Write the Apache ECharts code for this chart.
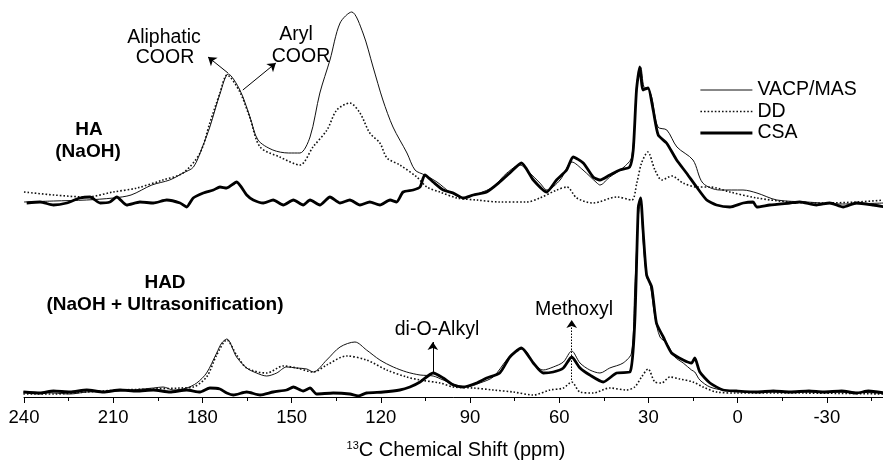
<!DOCTYPE html>
<html>
<head>
<meta charset="utf-8">
<script src="https://cdn.jsdelivr.net/npm/echarts@6/dist/echarts.min.js"></script>
<style>
  html, body { margin: 0; padding: 0; background: #fff; }
  #chart { width: 883px; height: 460px; }
</style>
</head>
<body>
<div id="chart"></div>
<script>
// offsets of the two stacked spectra (intensity units)
var offsetHA = 192;
var offsetHAD = 4;

// [ppm, intensity above own baseline]
var haVacp = [[240,3],[230,4],[219,5],[210,7],[204,10],[197,20],[191,25],[186.5,32],[183,38],[180,58],[177.5,78],[174,112],[171.3,131],[167.4,115],[164,88],[161.3,65],[156.3,55],[151,52],[147.2,52],[143.8,68],[140.5,112],[137.1,145],[133.7,182],[129.8,193],[126,172],[122.6,138],[119.3,105],[115.9,78],[111.2,52],[108.5,35],[105.2,30],[101.1,23],[96.8,13],[92.4,7],[86.7,12],[82.3,18],[77.6,32],[73.2,40],[69.9,32],[66.5,22],[64.1,15],[59.7,25],[55.7,43],[52,35],[47.3,22],[46.3,20],[43,28],[38.6,37],[35.6,48],[33.9,122],[32.6,138],[31.5,118],[30.2,117],[28.9,108],[26.8,78],[23.8,75],[20.4,58],[15,45],[11.7,22],[6,15],[-1.8,15],[-6.5,12],[-13.2,5],[-23.3,3],[-34.4,1],[-49.5,2]];
var haDd = [[240,13],[230,10],[219,8],[210,13],[202,17],[193.3,25],[186.5,32],[180.8,52],[177.5,82],[174.1,112],[171.7,130],[167.4,113],[164,87],[160.6,58],[154,48],[147.2,40],[142.8,58],[138.1,75],[134.8,95],[130.4,102],[127,92],[123.7,72],[120.3,62],[117.9,47],[113.6,40],[107.9,28],[104.5,18],[100.1,13],[94.4,7],[87.7,5],[80,3],[70.9,3],[66.5,7],[60.8,15],[57.4,18],[54.1,7],[48.7,2],[40.6,8],[35.6,5],[33.9,22],[32.3,42],[30.2,53],[27.8,35],[25.5,25],[22.1,29],[18.4,22],[13.7,18],[9.3,18],[2.6,13],[-6.5,7],[-17.6,3],[-28.7,2],[-40.1,3],[-49.5,5]];
var haCsa = [[239.1,2],[234.6,3],[230.1,0],[225.6,2],[221.2,7],[217.8,8],[214.4,2],[211.1,3],[208.8,8],[205.5,0],[201,3],[196.5,2],[192,5],[187.5,2],[185.3,-2],[183.1,7],[179.7,12],[176.3,15],[174.1,18],[171.8,17],[168.5,23],[165.1,10],[162.9,5],[159.5,2],[156.2,5],[152.8,0],[149.4,5],[146.1,0],[143.8,5],[140.5,0],[137.1,8],[133.7,2],[130.4,5],[127,0],[123.7,3],[120.3,0],[116.9,5],[114.7,3],[112.5,13],[109.1,15],[106.8,18],[105.2,30],[102.4,23],[99,15],[95.6,12],[92.3,7],[88.9,10],[84.4,13],[80,23],[76.6,32],[72.7,42],[68.7,25],[64.2,13],[60.9,25],[57.5,35],[55.3,48],[51.9,42],[48.6,28],[46.3,25],[43,30],[39.6,35],[36.3,38],[35.1,55],[34,115],[32.9,138],[31.8,115],[30.1,117],[28.4,95],[26.7,70],[23.9,62],[20.5,45],[17.2,32],[13.8,18],[10.4,5],[7.1,0],[2.6,-2],[-1.9,2],[-5.2,3],[-6.4,-2],[-10.8,0],[-17.6,2],[-20.9,3],[-26.5,0],[-31,2],[-35.5,-2],[-40,2],[-45.6,0],[-49.5,-2]];

var hadVacp = [[240.2,1],[230.1,0],[224.5,-1],[218.9,1],[207.7,2],[196.5,5],[193.2,6],[189.8,3],[185.3,5],[181.9,10],[178.6,20],[175.2,40],[173.5,50],[171.8,54],[168.5,36],[165.1,25],[161.8,20],[158.4,17],[155,20],[151.7,26],[148.3,25],[144.9,24],[142.7,21],[138.2,33],[133.7,46],[128.7,51],[124.8,43],[120.3,33],[115.8,26],[111.3,21],[106.8,18],[102.4,17],[99,13],[95.6,9],[91.1,6],[86.7,10],[82.2,16],[77.7,33],[74.3,43],[72.1,44],[68.7,30],[65.4,23],[62,26],[58.6,31],[55.8,42],[53,30],[49.7,23],[46.3,20],[43,25],[38.5,30],[35.7,40],[34.6,103],[33.4,176],[32.6,193],[31.8,153],[30.6,116],[29.5,110],[27.8,76],[26.1,56],[23.9,50],[21.1,36],[18.3,30],[15.5,23],[14.4,21],[12.7,13],[9.3,6],[4.9,3],[-6.4,1],[-28.8,1],[-49.5,0]];
var hadDd = [[240.2,-1],[230.1,-1],[218.9,1],[207.7,3],[196.5,4],[187.5,5],[183.1,6],[178.6,16],[175.2,38],[171.8,53],[168.5,38],[165.1,25],[158.4,20],[152.8,27],[148.3,25],[142.7,21],[138.2,28],[131.5,37],[124.8,33],[118,23],[111.3,16],[106.8,13],[100.1,10],[95.6,6],[88.9,5],[82.2,3],[75.5,1],[68.7,-2],[63.1,3],[58.6,5],[55.8,11],[53,1],[48.6,0],[43,5],[37.4,3],[34.6,6],[32.3,16],[30.1,24],[27.8,11],[25.6,10],[22.8,16],[19.4,14],[15,11],[11.6,6],[7.1,1],[0.4,0],[-17.6,0],[-49.5,-1]];
var hadCsa = [[240.2,1],[234.6,0],[230.1,2],[224.5,1],[218.9,3],[213.3,1],[207.7,3],[202.1,2],[196.5,3],[190.9,1],[185.3,3],[180.8,1],[177.5,5],[174.1,4],[171.8,0],[169.6,-2],[165.1,1],[160.6,-2],[156.2,1],[151.7,3],[149.4,6],[146.1,2],[143.8,5],[141.6,-1],[136,0],[130.4,-1],[127.6,-3],[124.8,0],[119.2,1],[113.6,3],[110.2,6],[106.8,11],[102.4,20],[99,15],[95.6,8],[92.3,6],[87.8,10],[84.4,15],[80,20],[76.6,36],[72.7,45],[68.7,30],[65.4,20],[62,21],[58.6,25],[55.8,36],[53,25],[49.7,18],[45.2,11],[40.7,20],[36.2,21],[34.6,70],[33.4,186],[32.6,195],[31.8,163],[30.6,118],[28.9,106],[27.3,70],[25,56],[22.2,40],[18.3,33],[15.5,30],[14.4,35],[12.7,21],[9.3,10],[4.9,3],[0.4,2],[-6.4,1],[-12,2],[-17.6,1],[-24,2],[-28.8,1],[-35,2],[-40,0],[-44,2],[-49.5,0]];

var legendNames = ['VACP/MAS', 'DD', 'CSA'];

// annotation arrows, [ppm, intensity] from -> to (relative to own baseline)
var arrowAliphatic = [[171.4, 132], [178.1, 148]];
var arrowAryl = [[166.4, 115], [155.3, 142]];
var arrowDiOAlkyl = [[102.5, 21], [102.5, 51]];
var arrowMethoxyl = [[55.8, 13], [55.8, 73]];

var font = 'Arial, "Liberation Sans", Helvetica, sans-serif';

function shift(arr, off) {
  return arr.map(function (d) { return [d[0], d[1] + off]; });
}
function arrow(a, off, dotted) {
  return [
    { coord: [a[0][0], a[0][1] + off], lineStyle: { type: dotted ? [1.5, 1.5] : 'solid' } },
    { coord: [a[1][0], a[1][1] + off] }
  ];
}

var styles = {
  'VACP/MAS': { color: '#111', width: 1, type: 'solid' },
  'DD': { color: '#111', width: 1.6, type: [1.6, 2] },
  'CSA': { color: '#000', width: 2.8, type: 'solid' }
};

function line(name, data, off, smooth) {
  return {
    name: name,
    type: 'line',
    data: shift(data, off),
    symbol: 'none',
    smooth: smooth,
    lineStyle: styles[name],
    itemStyle: { color: styles[name].color },
    silent: true
  };
}

var series = [
  line('VACP/MAS', haVacp, offsetHA, 0.3),
  line('DD', haDd, offsetHA, 0.3),
  line('CSA', haCsa, offsetHA, 0.2),
  line('VACP/MAS', hadVacp, offsetHAD, 0.3),
  line('DD', hadDd, offsetHAD, 0.3),
  line('CSA', hadCsa, offsetHAD, 0.2)
];
series[0].markLine = {
  silent: true,
  symbol: ['none', 'arrow'],
  symbolSize: 8,
  label: { show: false },
  lineStyle: { color: '#000', width: 1, type: 'solid' },
  data: [
    arrow(arrowAliphatic, offsetHA),
    arrow(arrowAryl, offsetHA),
    arrow(arrowDiOAlkyl, offsetHAD),
    arrow(arrowMethoxyl, offsetHAD, true)
  ]
};

function txt(x, y, s, size, bold) {
  return {
    type: 'text', x: x, y: y, silent: true,
    style: {
      text: s, fill: '#000', font: (bold ? 'bold ' : '') + size + 'px ' + font,
      align: 'center', verticalAlign: 'middle'
    }
  };
}

var chart = echarts.init(document.getElementById('chart'));
chart.setOption({
  animation: false,
  backgroundColor: '#fff',
  // axis runs on past the right edge of the canvas (to -60) and is cut there
  grid: { left: 24, top: 0, width: 892, height: 397, containLabel: false, outerBoundsMode: 'none' },
  legend: {
    data: legendNames.map(function (n) {
      return { name: n, lineStyle: { width: styles[n].width, type: styles[n].type } };
    }),
    orient: 'vertical',
    left: 694,
    top: 75,
    padding: 5,
    itemWidth: 52,
    itemHeight: 14,
    itemGap: 1.5,
    selectedMode: false,
    itemStyle: { opacity: 0 },
    textStyle: { fontFamily: font, fontSize: 19.5, color: '#000' }
  },
  xAxis: {
    type: 'value',
    inverse: true,
    min: -60,
    max: 240,
    interval: 30,
    axisLine: { lineStyle: { color: '#000', width: 1 } },
    axisTick: { length: 6, lineStyle: { color: '#000' } },
    minorTick: { show: true, splitNumber: 2, length: 4, lineStyle: { color: '#000' } },
    splitLine: { show: false },
    axisLabel: { fontFamily: font, fontSize: 18.5, color: '#000', margin: 11 },
    name: '{sup|13}{n|C Chemical Shift (ppm)}',
    nameLocation: 'middle',
    nameGap: 43,
    nameTextStyle: {
      padding: [0, 28, 0, 0],
      rich: {
        sup: { fontFamily: font, fontSize: 11, color: '#000', verticalAlign: 'top' },
        n: { fontFamily: font, fontSize: 20, color: '#000' }
      }
    }
  },
  yAxis: { type: 'value', min: 0, max: 397, show: false },
  graphic: [
    txt(164, 38, 'Aliphatic', 19.5),
    txt(165, 58, 'COOR', 19.5),
    txt(296, 35, 'Aryl', 19.5),
    txt(301, 57, 'COOR', 19.5),
    txt(89, 130, 'HA', 19, true),
    txt(88, 152, '(NaOH)', 19, true),
    txt(165, 283, 'HAD', 19, true),
    txt(165, 305, '(NaOH + Ultrasonification)', 19, true),
    txt(437, 330, 'di-O-Alkyl', 19.5),
    txt(574, 310, 'Methoxyl', 19.5)
  ],
  series: series
});
</script>
</body>
</html>
